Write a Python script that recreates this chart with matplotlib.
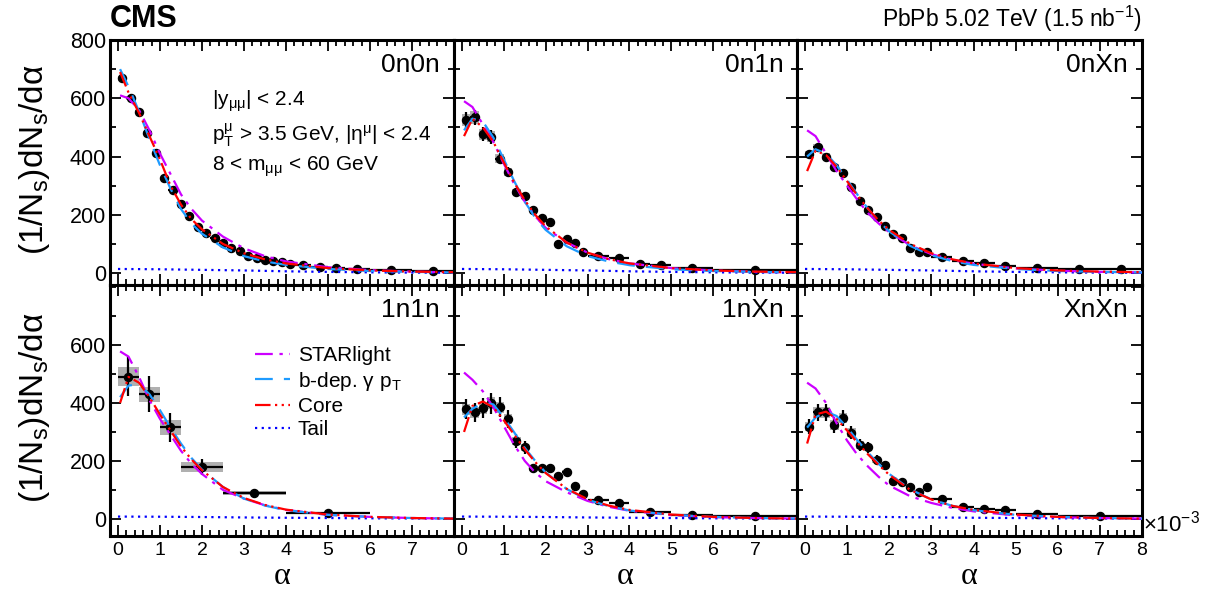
import numpy as np
import matplotlib
matplotlib.use('Agg')
import matplotlib.pyplot as plt
from matplotlib.ticker import MultipleLocator
from matplotlib.lines import Line2D

plt.rcParams['font.family'] = ['Liberation Sans', 'DejaVu Sans']
plt.rcParams['mathtext.fontset'] = 'custom'
plt.rcParams['mathtext.rm'] = 'Liberation Sans'
plt.rcParams['mathtext.it'] = 'Liberation Sans:italic'
plt.rcParams['mathtext.sf'] = 'Liberation Sans'

# ---- data (alpha in units of 1e-3) ----
edges_0n0n = [0, 0.2, 0.4, 0.6, 0.8, 1.0, 1.2, 1.4, 1.6, 1.8, 2.0, 2.2, 2.4, 2.6, 2.8, 3.0,
              3.2, 3.4, 3.6, 3.8, 4.0, 4.2, 4.6, 5.0, 5.4, 6.0, 7.0, 8.0]
edges_0n1n = [0, 0.2, 0.4, 0.6, 0.8, 1.0, 1.2, 1.4, 1.6, 1.8, 2.0, 2.2, 2.4, 2.6, 2.8, 3.0,
              3.5, 4.0, 4.5, 5.0, 6.0, 8.0]
edges_0nXn = [0, 0.2, 0.4, 0.6, 0.8, 1.0, 1.2, 1.4, 1.6, 1.8, 2.0, 2.2, 2.4, 2.6, 2.8, 3.0,
              3.5, 4.0, 4.5, 5.0, 6.0, 7.0, 8.0]
edges_1n1n = [0, 0.5, 1.0, 1.5, 2.5, 4.0, 6.0]
edges_1nXn = [0, 0.2, 0.4, 0.6, 0.8, 1.0, 1.2, 1.4, 1.6, 1.8, 2.0, 2.2, 2.4, 2.6, 2.8, 3.0,
              3.5, 4.0, 5.0, 6.0, 8.0]
edges_XnXn = [0, 0.2, 0.4, 0.6, 0.8, 1.0, 1.2, 1.4, 1.6, 1.8, 2.0, 2.2, 2.4, 2.6, 2.8, 3.0,
              3.5, 4.0, 4.5, 5.0, 6.0, 8.0]

y_0n0n = [668, 601, 553, 481, 411, 327, 284, 236, 197, 157, 138, 119, 102, 85, 74, 59, 51,
          44, 41, 37, 32, 26, 22, 18, 15, 10, 7]
y_0n1n = [525, 534, 477, 468, 393, 348, 279, 265, 218, 188, 176, 99, 116, 102, 73, 59, 51,
          31, 26, 17, 9]
y_0nXn = [408, 431, 399, 365, 344, 296, 248, 216, 193, 161, 134, 122, 85, 73, 73, 56, 41,
          35, 24, 18, 13, 14]
y_1n1n = [491, 430, 316, 178, 89, 20]
y_1nXn = [379, 368, 382, 399, 385, 344, 270, 247, 175, 175, 175, 149, 161, 114, 85, 66, 56,
          23, 14, 10]
y_XnXn = [318, 368, 368, 324, 347, 298, 255, 247, 203, 186, 131, 126, 111, 92, 111, 69, 42,
          33, 29, 17, 11]

# relative stat / syst uncertainties (estimated); 1n1n read directly
stat_rel = {'0n0n': 0.012, '0n1n': 0.05, '0nXn': 0.035, '1nXn': 0.09, 'XnXn': 0.08}
syst_rel = {'0n0n': 0.012, '0n1n': 0.04, '0nXn': 0.03, '1nXn': 0.05, 'XnXn': 0.05}
stat_1n1n = [66, 62, 51, 27, 12, 5]
syst_1n1n = [32, 26, 26, 17, 8, 3]

# model curves
c_alpha = [0.05, 0.25, 0.5, 0.75, 1.0, 1.25, 1.5, 1.75, 2.0, 2.5, 3.0, 3.5, 4.0, 5.0, 6.0, 7.0, 8.0]
star_0n0n = [610, 600, 560, 490, 410, 340, 270, 220, 180, 125, 85, 58, 40, 20, 10, 5, 2]
bdep_0n0n = [700, 640, 555, 460, 370, 290, 220, 170, 135, 88, 58, 40, 28, 14, 7, 4, 2]
core_0n0n = [690, 620, 550, 470, 390, 300, 235, 185, 150, 100, 68, 47, 33, 17, 9, 5, 3]
star_0n1n = [590, 570, 510, 450, 375, 305, 245, 195, 155, 105, 70, 48, 33, 17, 9, 4, 2]
bdep_0n1n = [490, 530, 520, 465, 390, 315, 245, 190, 148, 92, 58, 40, 27, 13, 7, 4, 2]
core_0n1n = [470, 530, 500, 450, 380, 310, 250, 200, 160, 105, 70, 48, 33, 17, 9, 5, 3]
star_0nXn = [490, 470, 410, 350, 300, 250, 205, 170, 140, 95, 65, 45, 32, 16, 8, 4, 2]
bdep_0nXn = [400, 425, 410, 370, 320, 268, 220, 178, 143, 93, 61, 41, 28, 14, 7, 4, 2]
core_0nXn = [350, 420, 405, 365, 315, 265, 220, 180, 148, 100, 68, 47, 33, 17, 9, 5, 3]
star_1n1n = [578, 560, 490, 410, 345, 290, 235, 190, 155, 100, 70, 47, 31, 14, 7, 3, 1]
bdep_1n1n = [420, 460, 465, 430, 375, 315, 260, 210, 170, 110, 70, 46, 30, 14, 7, 3, 1]
core_1n1n = [400, 490, 470, 420, 360, 305, 250, 205, 168, 110, 72, 48, 32, 15, 7, 3, 1]
star_1nXn = [505, 480, 440, 385, 320, 255, 200, 160, 130, 92, 62, 42, 28, 13, 6, 3, 1]
bdep_1nXn = [350, 380, 400, 395, 350, 298, 245, 200, 160, 103, 66, 44, 29, 14, 7, 3, 1]
core_1nXn = [300, 390, 405, 385, 340, 290, 240, 196, 158, 104, 68, 46, 31, 15, 7, 3, 1]
star_XnXn = [470, 450, 400, 330, 270, 220, 180, 145, 115, 78, 55, 38, 26, 12, 6, 3, 1]
bdep_XnXn = [315, 350, 370, 355, 315, 270, 228, 190, 155, 102, 67, 45, 30, 14, 7, 3, 1]
core_XnXn = [260, 360, 370, 345, 305, 262, 222, 186, 152, 100, 67, 45, 31, 15, 7, 3, 1]

tail_alpha = [0, 1, 2, 3, 4, 5, 6, 7, 8]
tail_top = [14, 13, 11, 9, 6, 4, 2.5, 1.5, 1]
tail_bottom = [8, 7.5, 6.5, 5, 4, 3, 2, 1.5, 1]

panels = [
    ('0n0n', edges_0n0n, y_0n0n, star_0n0n, bdep_0n0n, core_0n0n, tail_top),
    ('0n1n', edges_0n1n, y_0n1n, star_0n1n, bdep_0n1n, core_0n1n, tail_top),
    ('0nXn', edges_0nXn, y_0nXn, star_0nXn, bdep_0nXn, core_0nXn, tail_top),
    ('1n1n', edges_1n1n, y_1n1n, star_1n1n, bdep_1n1n, core_1n1n, tail_bottom),
    ('1nXn', edges_1nXn, y_1nXn, star_1nXn, bdep_1nXn, core_1nXn, tail_bottom),
    ('XnXn', edges_XnXn, y_XnXn, star_XnXn, bdep_XnXn, core_XnXn, tail_bottom),
]

W, H = 1213, 592
fig = plt.figure(figsize=(W / 100, H / 100), dpi=100)
col_px = [(110, 454), (454, 797), (797, 1142)]
row_px = [(40, 285), (285, 536)]
ylims = [(-41, 800), (-59, 807)]

c_star = '#cc00ff'
c_bdep = '#1e9bff'
c_core = '#ff0000'
c_tail = '#0000ff'
ls_star = (0, (8, 3, 1.5, 3))
ls_bdep = (0, (8, 5))
ls_core = (0, (7, 2, 1, 2, 1, 2))
ls_tail = (0, (1, 2))

axes = []
for i, (name, edges, y, star, bdep, core, tail) in enumerate(panels):
    r, c = divmod(i, 3)
    x0, x1 = col_px[c]
    y0, y1 = row_px[r]
    ax = fig.add_axes([x0 / W, 1 - y1 / H, (x1 - x0) / W, (y1 - y0) / H])
    axes.append(ax)

    e = np.array(edges)
    xc = 0.5 * (e[1:] + e[:-1])
    xw = e[1:] - e[:-1]
    yv = np.array(y, dtype=float)
    if name == '1n1n':
        st = np.array(stat_1n1n, dtype=float)
        sy = np.array(syst_1n1n, dtype=float)
    else:
        st = yv * stat_rel[name]
        sy = yv * syst_rel[name]

    ax.bar(xc, 2 * sy, bottom=yv - sy, width=xw, color='#b0b0b0', edgecolor='none', zorder=1)
    ax.errorbar(xc, yv, xerr=xw / 2, yerr=st, fmt='o', color='black', ms=5.8,
                elinewidth=1.6, capsize=0, zorder=2)

    ax.plot(tail_alpha, tail, color=c_tail, lw=1.6, ls=ls_tail, zorder=3)
    ax.plot(c_alpha, star, color=c_star, lw=1.6, ls=ls_star, zorder=4)
    ax.plot(c_alpha, bdep, color=c_bdep, lw=1.6, ls=ls_bdep, zorder=4)
    ax.plot(c_alpha, core, color=c_core, lw=1.6, ls=ls_core, zorder=5)

    ax.set_xlim(-0.19, 8.0)
    ax.set_ylim(*ylims[r])
    ax.xaxis.set_major_locator(MultipleLocator(1))
    ax.xaxis.set_minor_locator(MultipleLocator(0.2))
    ax.yaxis.set_major_locator(MultipleLocator(200))
    ax.yaxis.set_minor_locator(MultipleLocator(100))
    ax.tick_params(which='both', direction='in', top=True, right=True, width=1.3)
    ax.tick_params(which='major', length=8)
    ax.tick_params(which='minor', length=4)
    for s in ax.spines.values():
        s.set_linewidth(2.2)

    if r == 0:
        ax.set_xticklabels([])
    else:
        ticks = list(range(0, 9)) if c == 2 else list(range(0, 8))
        ax.set_xticks(ticks)
        ax.set_xticklabels([str(t) for t in ticks], fontsize=14)
        ax.tick_params(axis='x', pad=4)
        fig.text((x0 + x1) / 2 / W, 1 - 584 / H, 'α', family='Liberation Serif', fontsize=23,
                 ha='center', va='baseline')
    if c == 0:
        if r == 0:
            ax.set_yticks([0, 200, 400, 600, 800])
        else:
            ax.set_yticks([0, 200, 400, 600])
        ax.yaxis.set_minor_locator(MultipleLocator(100))
        ax.tick_params(axis='y', labelsize=15.5, pad=3)
        fig.text(35 / W, 1 - (160 if r == 0 else 408) / H, r'(1/N$_{\rm s}$)dN$_{\rm s}$/dα',
                 fontsize=24, rotation=90, ha='center', va='center')
    else:
        ax.set_yticklabels([])

    ax.text(0.96, 1 - 25 / (y1 - y0), name, transform=ax.transAxes, ha='right', va='center',
            fontsize=19)

# kinematic text
a0 = axes[0]
a0.text(0.297, 0.748, r'|y$_{\rm μμ}$| < 2.4', transform=a0.transAxes, fontsize=15, va='center')
a0.text(0.297, 0.612, r'p$_{\rm T}^{\rm μ}$ > 3.5 GeV, |η$^{\rm μ}$| < 2.4', transform=a0.transAxes,
        fontsize=15, va='center')
a0.text(0.297, 0.483, r'8 < m$_{\rm μμ}$ < 60 GeV', transform=a0.transAxes, fontsize=15,
        va='center')

# legend
handles = [
    Line2D([], [], color=c_star, lw=1.6, ls=ls_star),
    Line2D([], [], color=c_bdep, lw=1.6, ls=ls_bdep),
    Line2D([], [], color=c_core, lw=1.6, ls=ls_core),
    Line2D([], [], color=c_tail, lw=1.6, ls=ls_tail),
]
labels = ['STARlight', r'b-dep. γ p$_{\rm T}$', 'Core', 'Tail']
axes[3].legend(handles, labels, loc='upper left', bbox_to_anchor=(0.4215, 0.755), frameon=False,
               fontsize=15, handlelength=1.7, labelspacing=0.2, handletextpad=0.35,
               borderpad=0, borderaxespad=0)

fig.text(110 / W, 1 - 19 / H, 'CMS', fontsize=22, fontweight='bold', ha='left', va='center')
fig.text(1142 / W, 1 - 19 / H, r'PbPb 5.02 TeV (1.5 nb$^{-1}$)', fontsize=16.5, ha='right',
         va='center')
fig.text(1143 / W, 1 - 524 / H, r'×10$^{-3}$', fontsize=16, ha='left', va='center')

fig.savefig('out.png', dpi=100)
